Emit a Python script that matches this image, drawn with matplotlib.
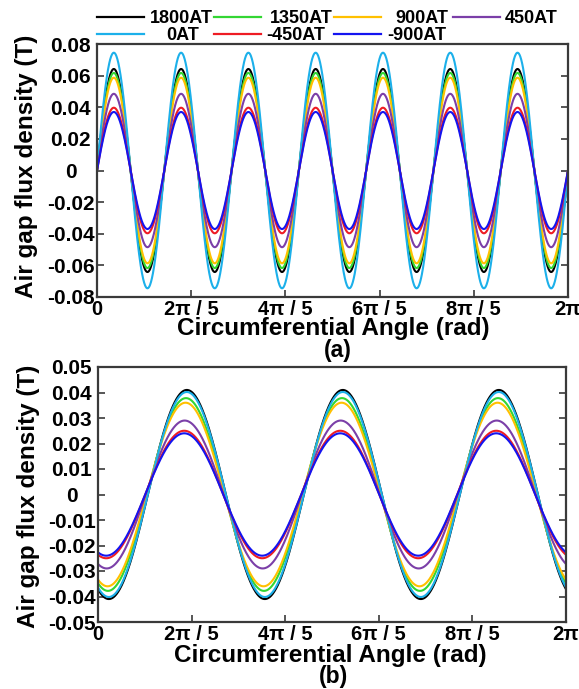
import numpy as np
import matplotlib.pyplot as plt
from matplotlib.lines import Line2D

W, H = 579, 689

LABELS = ["1800AT", "1350AT", "900AT", "450AT", "0AT", "-450AT", "-900AT"]
COLORS = ["#000000", "#33d633", "#ffc000", "#7b3fa8", "#1cb0ea", "#ee1c24", "#1414f0"]

# panel (a): peak air gap flux density per curve (T), 7 cycles over one turn
CYCLES_A = 7
AMP_A = [0.0642, 0.0617, 0.0587, 0.0485, 0.0745, 0.0397, 0.0370]
PHASE_A = [0, 0, 0, 0, 0, 0, 0]  # deg

# panel (b): peak flux density per curve (T), 3 cycles over one turn
CYCLES_B = 3
AMP_B = [0.0410, 0.0378, 0.0360, 0.0290, 0.0402, 0.0250, 0.0240]
PHASE_B = [-115, -113, -112, -110, -115, -109, -109]  # deg

XTICKS = [0, 2 * np.pi / 5, 4 * np.pi / 5, 6 * np.pi / 5, 8 * np.pi / 5, 2 * np.pi]
XTICK_LABELS = ["0", "2π / 5", "4π / 5", "6π / 5", "8π / 5", "2π"]
YTICKS_A = [0.08, 0.06, 0.04, 0.02, 0, -0.02, -0.04, -0.06, -0.08]
YTICK_LABELS_A = ["0.08", "0.06", "0.04", "0.02", "0", "-0.02", "-0.04", "-0.06", "-0.08"]
YTICKS_B = [0.05, 0.04, 0.03, 0.02, 0.01, 0, -0.01, -0.02, -0.03, -0.04, -0.05]
YTICK_LABELS_B = ["0.05", "0.04", "0.03", "0.02", "0.01", "0", "-0.01", "-0.02", "-0.03", "-0.04", "-0.05"]

SPINE = "#3a3a3a"


def box(left, top, right, bottom):
    return [left / W, 1 - bottom / H, (right - left) / W, (bottom - top) / H]


def style_axes(ax, yticks, ylabels, ylim, panel, ylab_y, xlab_xy, tag_xy):
    ax.set_xlim(0, 2 * np.pi)
    ax.set_ylim(*ylim)
    ax.set_xticks(XTICKS, labels=XTICK_LABELS)
    ax.set_yticks(yticks, labels=ylabels)
    for lab in ax.get_yticklabels():
        lab.set_horizontalalignment("center")
    ax.tick_params(axis="both", direction="in", length=5, width=1.2, color=SPINE,
                   labelsize=15, right=True, top=False)
    ax.tick_params(axis="y", pad=18.8)
    ax.tick_params(axis="x", pad=2.5, labelsize=14.5)
    for lab in ax.get_xticklabels() + ax.get_yticklabels():
        lab.set_fontweight("bold")
    for sp in ax.spines.values():
        sp.set_color(SPINE)
        sp.set_linewidth(1.6)

    ax.set_ylabel("Air gap flux density (T)", fontsize=17.5, weight="bold", va="center")
    ax.yaxis.set_label_coords(-0.149, ylab_y)
    ax.set_xlabel("Circumferential Angle (rad)", fontsize=17.5, weight="bold", va="center")
    ax.xaxis.set_label_coords(*xlab_xy)
    ax.text(tag_xy[0], tag_xy[1], panel, transform=ax.transAxes, ha="center", va="center",
            fontsize=16.5, weight="bold")


def main():
    plt.rcParams.update({"font.family": ["Liberation Sans", "DejaVu Sans"]})
    fig = plt.figure(figsize=(W / 100, H / 100), dpi=100)
    fig.patch.set_facecolor("white")

    ax_a = fig.add_axes(box(97, 44, 568, 297))
    ax_b = fig.add_axes(box(98, 367, 566, 622))

    x = np.linspace(0, 2 * np.pi, 1500)
    lines = []
    for label, color, amp, ph in zip(LABELS, COLORS, AMP_A, PHASE_A):
        (ln,) = ax_a.plot(x, amp * np.sin(CYCLES_A * x + np.radians(ph)), color=color, lw=1.5, label=label)
        lines.append(ln)
    for color, amp, ph in zip(COLORS, AMP_B, PHASE_B):
        ax_b.plot(x, amp * np.sin(CYCLES_B * x + np.radians(ph)), color=color, lw=1.5)

    style_axes(ax_a, YTICKS_A, YTICK_LABELS_A, (-0.08, 0.08), "(a)", 0.518, (0.502, -0.126), (0.512, -0.21))
    style_axes(ax_b, YTICKS_B, YTICK_LABELS_B, (-0.05, 0.05), "(b)", 0.494, (0.497, -0.131), (0.504, -0.215))

    # legend drawn in MATLAB style: 4 columns, two rows above panel (a)
    line_x0 = [97, 214, 334, 453]
    text_cx = [[181.5, 301.5, 421.5, 531], [182.5, 296, 417]]
    row_y = [17.3, 34.3]
    for i, ln in enumerate(lines):
        row, col = divmod(i, 4)
        y = 1 - row_y[row] / H
        x0 = line_x0[col]
        fig.add_artist(Line2D([x0 / W, (x0 + 47) / W], [y, y], color=ln.get_color(), lw=1.6,
                              transform=fig.transFigure))
        fig.text(text_cx[row][col] / W, y - 1.2 / H, ln.get_label(), ha="center", va="center",
                 fontsize=13, weight="bold")

    fig.savefig("out.png", dpi=100)


if __name__ == "__main__":
    main()
